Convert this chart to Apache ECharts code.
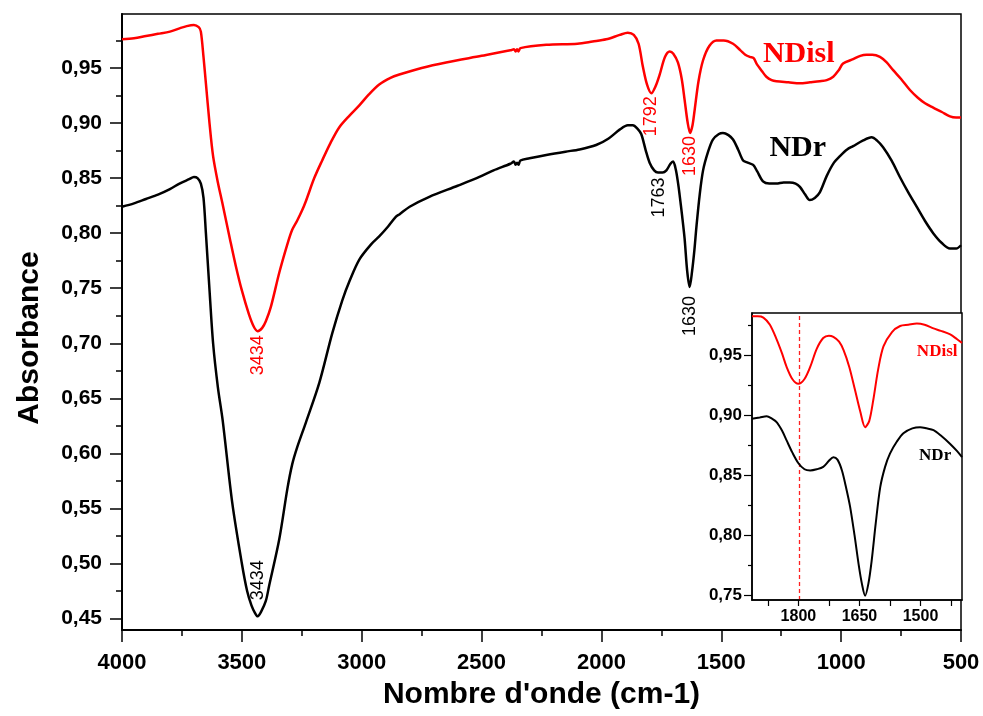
<!DOCTYPE html>
<html>
<head>
<meta charset="utf-8">
<script src="https://cdn.jsdelivr.net/npm/echarts@6/dist/echarts.min.js"></script>
<style>html,body{margin:0;padding:0;background:#fff;}#c{width:983px;height:716px;}</style>
</head>
<body>
<div id="c"></div>
<script>
// ---------- DATA ----------
const ndislWn = [4000,3950,3900,3850,3800,3760,3730,3700,3680,3671,3660,3650,3635,3620,3600,3582,3550,3525,3500,3470,3450,3434,3415,3400,3379,3344,3310,3290,3270,3250,3233,3198,3165,3130,3094,3050,3010,2970,2927,2880,2843,2750,2648,2500,2380,2365,2358,2352,2346,2338,2230,2100,2037,1980,1924,1890,1865,1845,1827,1810,1792,1775,1757,1735,1715,1700,1681,1665,1653,1640,1630,1620,1611,1595,1576,1550,1520,1490,1451,1420,1400,1381,1365,1353,1330,1312,1290,1270,1220,1172,1130,1089,1060,1033,1010,992,950,920,894,870,838,810,783,750,713,680,650,616,580,546,520,500];
const ndislAbs = [0.976,0.977,0.979,0.981,0.983,0.986,0.988,0.989,0.987,0.983,0.960,0.936,0.900,0.870,0.846,0.828,0.795,0.770,0.748,0.726,0.715,0.711,0.714,0.720,0.733,0.764,0.790,0.803,0.811,0.820,0.829,0.850,0.866,0.882,0.896,0.907,0.916,0.926,0.935,0.941,0.944,0.950,0.955,0.961,0.966,0.967,0.965,0.967,0.965,0.968,0.971,0.972,0.974,0.976,0.980,0.982,0.980,0.972,0.951,0.935,0.927,0.933,0.944,0.960,0.965,0.963,0.955,0.940,0.921,0.900,0.891,0.898,0.912,0.938,0.957,0.970,0.975,0.975,0.972,0.966,0.962,0.960,0.959,0.954,0.947,0.942,0.939,0.938,0.937,0.936,0.937,0.938,0.939,0.942,0.948,0.954,0.958,0.961,0.962,0.962,0.960,0.955,0.948,0.940,0.930,0.923,0.918,0.914,0.910,0.906,0.905,0.905];

const ndrWn = [4000,3950,3900,3850,3800,3760,3720,3700,3685,3671,3660,3650,3636,3620,3600,3580,3540,3500,3478,3460,3445,3434,3420,3400,3386,3344,3310,3290,3270,3233,3177,3123,3081,3050,3010,2960,2927,2890,2857,2843,2800,2718,2600,2509,2450,2380,2365,2358,2352,2346,2338,2300,2230,2150,2091,2022,1970,1924,1890,1869,1850,1834,1815,1799,1780,1764,1745,1729,1712,1701,1690,1680,1674,1663,1653,1642,1632,1622,1612,1604,1590,1576,1555,1535,1510,1493,1470,1451,1430,1409,1390,1367,1350,1326,1300,1270,1240,1214,1190,1172,1150,1131,1110,1089,1060,1030,1005,975,950,910,873,850,825,790,755,720,685,650,616,580,546,520,500];
const ndrAbs = [0.824,0.827,0.831,0.835,0.840,0.845,0.849,0.851,0.850,0.845,0.832,0.800,0.752,0.700,0.660,0.630,0.555,0.500,0.475,0.462,0.455,0.452,0.456,0.466,0.480,0.522,0.568,0.590,0.605,0.628,0.664,0.709,0.739,0.757,0.776,0.790,0.797,0.806,0.815,0.817,0.824,0.833,0.843,0.851,0.857,0.863,0.865,0.862,0.864,0.862,0.866,0.868,0.871,0.874,0.876,0.880,0.886,0.894,0.898,0.898,0.895,0.890,0.875,0.864,0.857,0.855,0.855,0.857,0.863,0.865,0.858,0.845,0.835,0.815,0.795,0.765,0.751,0.765,0.785,0.805,0.835,0.857,0.874,0.885,0.890,0.891,0.889,0.885,0.876,0.866,0.864,0.862,0.856,0.847,0.845,0.845,0.846,0.846,0.845,0.842,0.835,0.830,0.832,0.837,0.852,0.864,0.870,0.876,0.879,0.884,0.887,0.884,0.878,0.866,0.851,0.837,0.824,0.811,0.800,0.791,0.786,0.786,0.789];

// inset (zoom 1914 - 1398 cm-1)
const insetRedWn = [1914,1900,1886,1870,1853,1840,1829,1815,1800,1785,1771,1755,1739,1725,1714,1700,1689,1675,1661,1648,1636,1626,1616,1604,1591,1570,1550,1530,1509,1490,1468,1450,1427,1410,1398];
const insetRedAbs = [0.982,0.982,0.981,0.975,0.9625,0.951,0.940,0.930,0.926,0.930,0.940,0.955,0.964,0.966,0.965,0.961,0.954,0.940,0.921,0.903,0.890,0.895,0.9125,0.938,0.957,0.969,0.974,0.975,0.976,0.975,0.972,0.970,0.967,0.963,0.960];
const insetBlkWn = [1914,1895,1878,1865,1853,1840,1829,1815,1800,1785,1771,1755,1739,1725,1714,1704,1693,1683,1673,1662,1652,1644,1636,1628,1620,1610,1599,1587,1575,1558,1542,1520,1501,1485,1468,1450,1427,1410,1398];
const insetBlkAbs = [0.897,0.898,0.899,0.897,0.894,0.887,0.879,0.869,0.860,0.855,0.854,0.855,0.857,0.862,0.865,0.863,0.854,0.840,0.824,0.800,0.776,0.760,0.750,0.760,0.779,0.810,0.840,0.857,0.868,0.878,0.885,0.889,0.890,0.889,0.8875,0.883,0.876,0.870,0.865];

const mainYMajor = [0.45,0.50,0.55,0.60,0.65,0.70,0.75,0.80,0.85,0.90,0.95];
const mainYMinor = [0.475,0.525,0.575,0.625,0.675,0.725,0.775,0.825,0.875,0.925,0.975];
const insetYMajor = [0.75,0.80,0.85,0.90,0.95];
const insetYMinor = [0.775,0.825,0.875,0.925,0.975];
const insetXTicks = [1425,1500,1575,1650,1725,1800,1875];
const insetXLabels = [1500,1650,1800];
const insetMarker = 1798;

const peaksRed = [{name:'3434', wn:3434, v:0.711},{name:'1792', wn:1792, v:0.927},{name:'1630', wn:1630, v:0.891}];
const peaksBlk = [{name:'3434', wn:3434, v:0.452},{name:'1763', wn:1763, v:0.855},{name:'1630', wn:1632, v:0.751}];

// ---------- CHART ----------
const zip = (a,b) => a.map((x,i)=>[x,b[i]]);
const comma = v => v.toFixed(2).replace('.', ',');
const plain = v => String(Math.round(v));
const SANS = '"Liberation Sans", Arial, sans-serif';
const SERIF = '"Liberation Serif", "Times New Roman", serif';

function peakMP(p, color, off) {
  return {
    name: p.name, coord: [p.wn, p.v],
    label: { show: true, position: 'inside', rotate: 90, offset: off, formatter: '{b}',
             color: color, fontFamily: SANS, fontSize: 18 }
  };
}
function nameMP(name, coord, color, size) {
  return { name: name, coord: coord,
    label: { show: true, position: 'inside', formatter: '{b}', color: color,
             fontFamily: SERIF, fontWeight: 'bold', fontSize: size } };
}
const mpBase = { symbol: 'circle', symbolSize: 1, itemStyle: { color: 'rgba(0,0,0,0)' }, animation: false };

const chart = echarts.init(document.getElementById('c'), null, { renderer: 'canvas' });
chart.setOption({
  animation: false,
  backgroundColor: '#fff',
  grid: [
    { left: 122, top: 14, right: 22, bottom: 86, show: true, borderColor: '#000', borderWidth: 1.5, backgroundColor: 'rgba(0,0,0,0)' },
    { left: 752, top: 313, right: 21, bottom: 116, show: true, borderColor: '#000', borderWidth: 1.5, backgroundColor: '#fff', z: 5 }
  ],
  xAxis: [
    { gridIndex: 0, type: 'value', min: 500, max: 4000, interval: 500, inverse: true,
      name: "Nombre d'onde (cm-1)", nameLocation: 'middle', nameGap: 50,
      nameTextStyle: { fontFamily: SANS, fontWeight: 'bold', fontSize: 30, color: '#000' },
      axisLine: { lineStyle: { color: '#000', width: 2 } },
      axisTick: { length: 12, lineStyle: { color: '#000', width: 1.5 } },
      minorTick: { show: true, splitNumber: 2, length: 6, lineStyle: { color: '#000', width: 1.5 } },
      axisLabel: { formatter: plain, margin: 22, fontFamily: SANS, fontWeight: 'bold', fontSize: 22, color: '#000' },
      splitLine: { show: false } },
    { gridIndex: 1, type: 'value', min: 1398, max: 1914, inverse: true, z: 6,
      axisLine: { lineStyle: { color: '#000', width: 1.5 } },
      axisTick: { customValues: insetXTicks, length: 6, lineStyle: { color: '#000', width: 1.2 } },
      axisLabel: { customValues: insetXLabels, formatter: plain, margin: 9, fontFamily: SANS, fontWeight: 'bold', fontSize: 16, color: '#000' },
      splitLine: { show: false } }
  ],
  yAxis: [
    { gridIndex: 0, type: 'value', position: 'left', min: 0.4396, max: 0.999,
      name: 'Absorbance', nameLocation: 'middle', nameGap: 77,
      nameTextStyle: { fontFamily: SANS, fontWeight: 'bold', fontSize: 30, color: '#000', padding: [0, 32, 0, 0] },
      axisLine: { show: true, lineStyle: { color: '#000', width: 2 } },
      axisTick: { show: true, customValues: mainYMajor, length: 12, lineStyle: { color: '#000', width: 1.5 } },
      axisLabel: { customValues: mainYMajor, formatter: comma, margin: 20, fontFamily: SANS, fontWeight: 'bold', fontSize: 21, color: '#000' },
      splitLine: { show: false } },
    { gridIndex: 0, type: 'value', position: 'left', min: 0.4396, max: 0.999,
      axisLine: { show: false },
      axisTick: { show: true, customValues: mainYMinor, length: 6, lineStyle: { color: '#000', width: 1.5 } },
      axisLabel: { show: false }, splitLine: { show: false } },
    { gridIndex: 1, type: 'value', position: 'left', min: 0.7464, max: 0.9848, z: 6,
      axisLine: { show: true, lineStyle: { color: '#000', width: 1.5 } },
      axisTick: { show: true, customValues: insetYMajor, length: 8, lineStyle: { color: '#000', width: 1.2 } },
      axisLabel: { customValues: insetYMajor, formatter: comma, margin: 10, fontFamily: SANS, fontWeight: 'bold', fontSize: 17, color: '#000' },
      splitLine: { show: false } },
    { gridIndex: 1, type: 'value', position: 'left', min: 0.7464, max: 0.9848, z: 6,
      axisLine: { show: false },
      axisTick: { show: true, customValues: insetYMinor, length: 4, lineStyle: { color: '#000', width: 1.2 } },
      axisLabel: { show: false }, splitLine: { show: false } }
  ],
  series: [
    { type: 'line', name: 'NDisl', xAxisIndex: 0, yAxisIndex: 0, data: zip(ndislWn, ndislAbs),
      showSymbol: false, smooth: 0.3, lineStyle: { color: '#ff0000', width: 2.5 }, itemStyle: { color: '#ff0000' },
      markPoint: Object.assign({}, mpBase, { data: [
        peakMP(peaksRed[0], '#ff0000', [-24, 0]),
        peakMP(peaksRed[1], '#ff0000', [-23, 0]),
        peakMP(peaksRed[2], '#ff0000', [-23, 0]),
        nameMP('NDisl', [1177, 0.9627], '#ff0000', 30)
      ] }) },
    { type: 'line', name: 'NDr', xAxisIndex: 0, yAxisIndex: 0, data: zip(ndrWn, ndrAbs),
      showSymbol: false, smooth: 0.3, lineStyle: { color: '#000', width: 2.5 }, itemStyle: { color: '#000' },
      markPoint: Object.assign({}, mpBase, { data: [
        peakMP(peaksBlk[0], '#000', [36, 0]),
        peakMP(peaksBlk[1], '#000', [-25, 1]),
        peakMP(peaksBlk[2], '#000', [-29, 0]),
        nameMP('NDr', [1181, 0.8773], '#000', 30)
      ] }) },
    { type: 'line', name: 'NDisl inset', xAxisIndex: 1, yAxisIndex: 2, data: zip(insetRedWn, insetRedAbs), z: 7,
      showSymbol: false, smooth: 0.3, lineStyle: { color: '#ff0000', width: 2 }, itemStyle: { color: '#ff0000' },
      markLine: { symbol: 'none', silent: true, animation: false, label: { show: false }, precision: 0,
        lineStyle: { color: '#ff2020', type: [4, 3], width: 1.3, opacity: 1 },
        emphasis: { disabled: true },
        data: [{ xAxis: insetMarker }] },
      markPoint: Object.assign({}, mpBase, { data: [ nameMP('NDisl', [1459, 0.9525], '#ff0000', 17) ] }) },
    { type: 'line', name: 'NDr inset', xAxisIndex: 1, yAxisIndex: 2, data: zip(insetBlkWn, insetBlkAbs), z: 7,
      showSymbol: false, smooth: 0.3, lineStyle: { color: '#000', width: 2 }, itemStyle: { color: '#000' },
      markPoint: Object.assign({}, mpBase, { data: [ nameMP('NDr', [1464, 0.8667], '#000', 17) ] }) }
  ]
});
</script>
</body>
</html>
